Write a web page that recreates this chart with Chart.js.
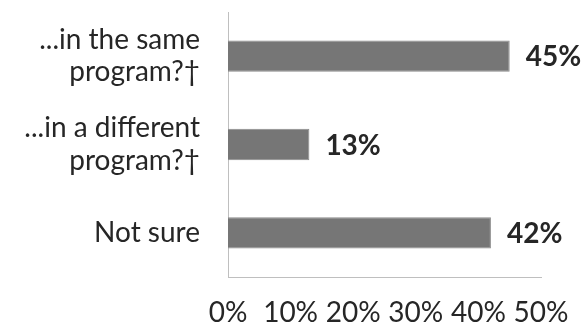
<!DOCTYPE html>
<html>
<head>
<meta charset="utf-8">
<script src="https://cdn.jsdelivr.net/npm/chart.js@4"></script>
<style>
  html, body { margin: 0; padding: 0; background: #fff; }
  #wrap { width: 587px; height: 326px; }
</style>
</head>
<body>
<div id="wrap"><canvas id="programChart" width="587" height="326"></canvas></div>
<script>
// Answer categories and share of respondents (%)
const categories = [
    ['...in the same', 'program?\u2020'],
    ['...in a different', 'program?\u2020'],
    'Not sure'
];
const shares = [45, 13, 42];
const xTicks = [0, 10, 20, 30, 40, 50];

// Writes the bold percentage just past the end of each bar
const valueLabels = {
    id: 'valueLabels',
    afterDatasetsDraw(chart) {
        const ctx = chart.ctx;
        const meta = chart.getDatasetMeta(0);
        ctx.save();
        ctx.font = 'bold 28px Lato';
        ctx.fillStyle = '#262626';
        ctx.textAlign = 'left';
        ctx.textBaseline = 'middle';
        meta.data.forEach((bar, i) => {
            ctx.fillText(shares[i] + '%', bar.x + 16, bar.y + 1);
        });
        ctx.restore();
    }
};

const ctx = document.getElementById('programChart').getContext('2d');
const programChart = new Chart(ctx, {
    type: 'bar',
    data: {
        labels: categories,
        datasets: [{
            data: shares,
            backgroundColor: '#767676',
            borderColor: '#8a8a8a',
            borderWidth: 1,
            barPercentage: 0.355,
            categoryPercentage: 1
        }]
    },
    options: {
        indexAxis: 'y',
        responsive: false,
        animation: false,
        layout: { padding: { top: 12, right: 46, left: 0, bottom: 0 } },
        plugins: {
            legend: { display: false },
            tooltip: { enabled: false }
        },
        scales: {
            x: {
                min: 0,
                max: 50,
                afterBuildTicks: scale => { scale.ticks = xTicks.map(v => ({ value: v })); },
                afterFit: scale => {
                    scale.height = 49;
                    scale.paddingLeft = 0;
                    scale.paddingRight = 0;
                },
                grid: { display: false, drawTicks: false },
                border: { display: true, color: '#bfbfbf', width: 1 },
                ticks: {
                    padding: 19,
                    color: '#262626',
                    font: { family: 'Lato', size: 28 },
                    maxRotation: 0,
                    autoSkip: false,
                    callback: v => v + '%'
                }
            },
            y: {
                afterFit: scale => {
                    scale.width = 228;
                    scale.paddingTop = 0;
                    scale.paddingBottom = 0;
                },
                grid: { display: false, drawTicks: false },
                border: { display: true, color: '#bfbfbf', width: 1 },
                ticks: {
                    padding: 28,
                    color: '#262626',
                    font: { family: 'Lato', size: 28, lineHeight: 1.16 }
                }
            }
        }
    },
    plugins: [valueLabels]
});
</script>
</body>
</html>
